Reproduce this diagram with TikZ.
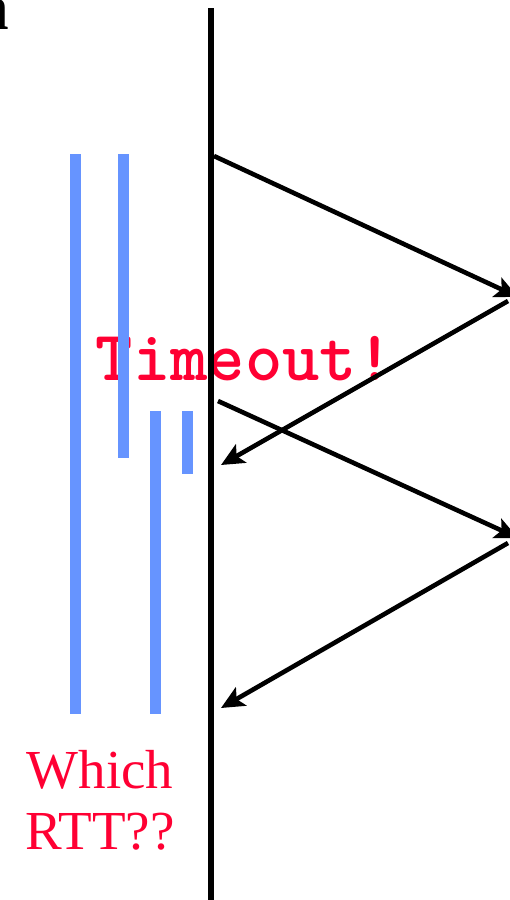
\documentclass[tikz,border=0pt]{standalone}
\usepackage{fontspec}
\usepackage{tikz}
\usetikzlibrary{positioning,arrows.meta}
\setmainfont{Liberation Serif}
\definecolor{RttBlue}{HTML}{6694FF}
\definecolor{RttRed}{HTML}{FF0033}

\begin{document}
\begin{tikzpicture}[x=1pt,y=-1pt,
  msg/.style={line width=4.6pt,-{Stealth[length=23pt,width=21pt,inset=5pt]}},
  bar/.style={fill=RttBlue}]
  \useasboundingbox (0,0) rectangle (510,900);
  \clip (0,0) rectangle (510,900);
  % cut-off label, top left
  \node[anchor=base east,inner sep=0pt,font=\fontsize{64}{64}\selectfont\bfseries] (cut) at (9,29) {n};
  % timeout label sits behind everything
  \node[anchor=base,inner sep=0pt,text=RttRed,font=\fontsize{71}{71}\selectfont\ttfamily\bfseries] (tmo) at (245,380) {Timeout!};
  % sample bars x1/x2/top/bottom
  \foreach \a/\b/\t/\u in {70/81/154/714,118/129/154/458,150/161/411/714,182/193/411/474}{
     \fill[bar] (\a,\t) rectangle (\b,\u);}
  % sender time line
  \coordinate (top) at (211,8);
  \coordinate (bot) at (211,900);
  \draw[line width=5.5pt] (top)--(bot);
  % segments and acks
  \coordinate (snd1) at (214,156);
  \coordinate (rcv1) at (518,297);
  \coordinate (rcv1b) at (508,301);
  \coordinate (ack1) at (221,465);
  \coordinate (snd2) at (218,401);
  \coordinate (rcv2) at (518,538);
  \coordinate (rcv2b) at (508,543);
  \coordinate (ack2) at (221,708);
  \draw[msg] (snd1)--(rcv1);
  \draw[msg] (rcv1b)--(ack1);
  \draw[msg] (snd2)--(rcv2);
  \draw[msg] (rcv2b)--(ack2);
  \node[align=center,text=RttRed,font=\fontsize{55}{61}\selectfont,inner sep=0pt] (which) at (100,800) {Which\\RTT??};
\end{tikzpicture}
\end{document}
